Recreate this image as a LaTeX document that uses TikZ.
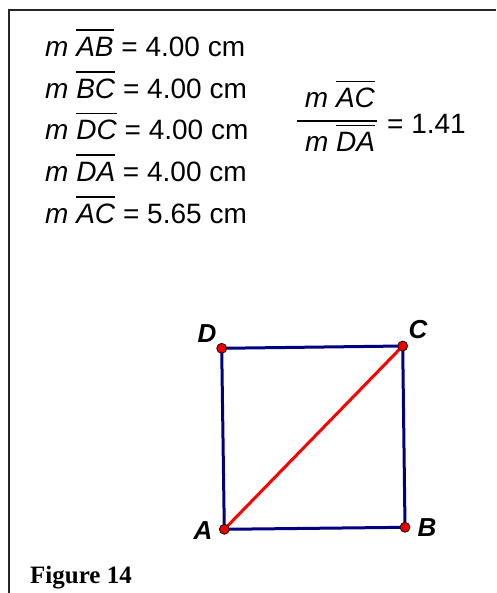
\documentclass[tikz,border=0pt]{standalone}
\usepackage{fontspec}
\setmainfont{Liberation Sans}
\newfontfamily\figfont{Liberation Serif}
\newsavebox{\ovlbox}
\newcommand{\ovl}[1]{\sbox{\ovlbox}{#1}\rlap{\rule[25.5pt]{\wd\ovlbox}{1.8pt}}\usebox{\ovlbox}}
\definecolor{segblue}{RGB}{0,0,128}
\definecolor{ptred}{RGB}{235,0,0}
\begin{document}
\begin{tikzpicture}[x=1pt,y=-1pt,
  meas/.style={anchor=base west, inner sep=0pt, font=\fontsize{28}{28}\selectfont},
  fracpart/.style={anchor=base, inner sep=0pt, font=\fontsize{28}{28}\selectfont},
  side/.style={draw=segblue, line width=3pt},
  diag/.style={draw=red, line width=3pt},
  pt/.style={circle, fill=ptred, draw=black, line width=0.7pt, inner sep=0pt, minimum size=10pt},
  lbl/.style={inner sep=0pt, font=\fontsize{26}{26}\selectfont\bfseries\itshape},
  frame/.style={draw=black!85, line width=2pt}]
\useasboundingbox (0,0) rectangle (496,593);
% frame
\coordinate (f1) at (8.5,593);
\coordinate (f2) at (8.5,10);
\coordinate (f3) at (496,10);
\draw[frame] (f1) -- (f2) -- (f3);
% measurements
\node[meas] (m1) at (45,56.5) {\textit{m} \ovl{\textit{AB}} = 4.00 cm};
\node[meas] (m2) at (45,98.2) {\textit{m} \ovl{\textit{BC}} = 4.00 cm};
\node[meas] (m3) at (45,139.9) {\textit{m} \ovl{\textit{DC}} = 4.00 cm};
\node[meas] (m4) at (45,181.6) {\textit{m} \ovl{\textit{DA}} = 4.00 cm};
\node[meas] (m5) at (45,223.3) {\textit{m} \ovl{\textit{AC}} = 5.65 cm};
% ratio
\node[fracpart] (num) at (340,108) {\textit{m} \ovl{\textit{AC}}};
\node[fracpart] (den) at (340,152) {\textit{m} \ovl{\textit{DA}}};
\coordinate (b1) at (297,121);
\coordinate (b2) at (377,121);
\draw[line width=2pt] (b1) -- (b2);
\node[meas] (ratio) at (387,134) {= 1.41};
% square
\coordinate (pA) at (224.3,529.3);
\coordinate (pB) at (405,527.3);
\coordinate (pC) at (402.7,346);
\coordinate (pD) at (221.7,348.3);
\draw[side] (pA) -- (pB);
\draw[side] (pB) -- (pC);
\draw[side] (pC) -- (pD);
\draw[side] (pD) -- (pA);
\draw[diag] (pA) -- (pC);
\node[pt] (A) at (pA) {};
\node[pt] (B) at (pB) {};
\node[pt] (C) at (pC) {};
\node[pt] (D) at (pD) {};
\node[lbl] (la) at (203,531) {A};
\node[lbl] (lb) at (427,528) {B};
\node[lbl] (lc) at (418,330) {C};
\node[lbl] (ld) at (207,334) {D};
% caption
\node[anchor=base west, inner sep=0pt, font=\fontsize{25}{25}\selectfont\figfont\bfseries] (cap) at (30,583) {Figure 14};
\end{tikzpicture}
\end{document}
